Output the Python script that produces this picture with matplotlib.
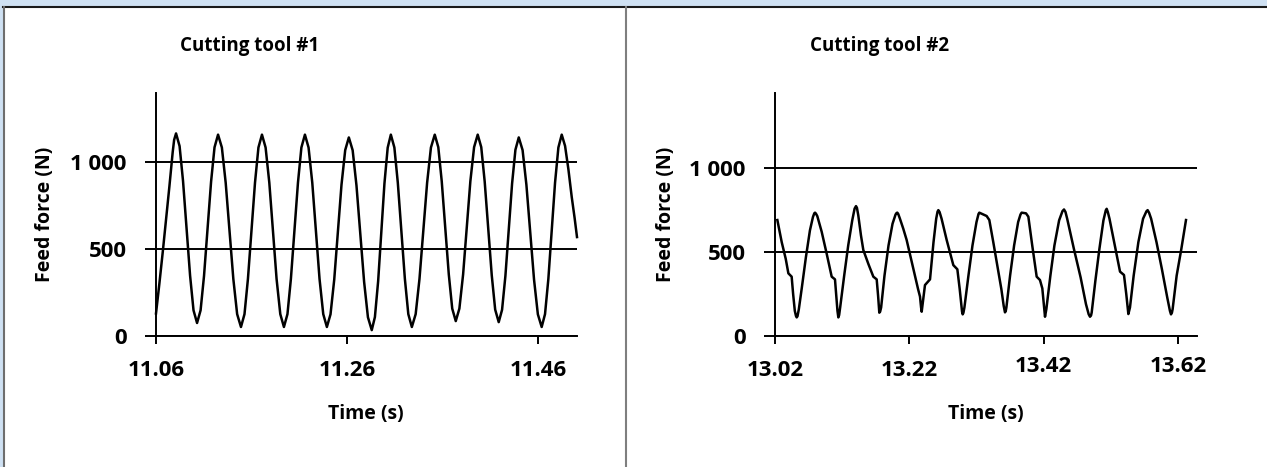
import matplotlib

matplotlib.use("Agg")
import matplotlib.pyplot as plt
from matplotlib.lines import Line2D
from matplotlib.patches import Rectangle
from matplotlib.transforms import ScaledTranslation

plt.rcParams["font.family"] = ["Open Sans", "DejaVu Sans"]
plt.rcParams["font.weight"] = "bold"

W, H = 1267, 467

# ---- data ------------------------------------------------------------------
tool1_time = [
    11.0600, 11.0635, 11.0670, 11.0705, 11.0740, 11.0775, 11.0790, 11.0810,
    11.0847, 11.0883, 11.0920, 11.0957, 11.0993, 11.1030,
    11.1067, 11.1103, 11.1140, 11.1177, 11.1213, 11.1250,
    11.1290, 11.1330, 11.1370, 11.1410, 11.1450, 11.1490,
    11.1527, 11.1563, 11.1600, 11.1637, 11.1673, 11.1710,
    11.1748, 11.1787, 11.1825, 11.1863, 11.1902, 11.1940,
    11.1977, 11.2013, 11.2050, 11.2087, 11.2123, 11.2160,
    11.2198, 11.2237, 11.2275, 11.2313, 11.2352, 11.2390,
    11.2428, 11.2467, 11.2505, 11.2543, 11.2582, 11.2620,
    11.2660, 11.2700, 11.2740, 11.2780, 11.2820, 11.2860,
    11.2893, 11.2927, 11.2960, 11.2993, 11.3027, 11.3060,
    11.3097, 11.3133, 11.3170, 11.3207, 11.3243, 11.3280,
    11.3320, 11.3360, 11.3400, 11.3440, 11.3480, 11.3520,
    11.3557, 11.3593, 11.3630, 11.3667, 11.3703, 11.3740,
    11.3778, 11.3817, 11.3855, 11.3893, 11.3932, 11.3970,
    11.4007, 11.4043, 11.4080, 11.4117, 11.4153, 11.4190,
    11.4225, 11.4260, 11.4295, 11.4330, 11.4365, 11.4400,
    11.4440, 11.4480, 11.4520, 11.4560, 11.4600, 11.4640,
    11.4675, 11.4710, 11.4745, 11.4780, 11.4815, 11.4850,
    11.4885, 11.4920, 11.4955, 11.4985, 11.5010,
]
tool1_force = [
    130, 300, 480, 670, 860, 1060, 1130, 1167,
    1094, 894, 621, 348, 148, 75,
    148, 346, 618, 889, 1087, 1160,
    1086, 883, 606, 329, 126, 52,
    126, 329, 606, 883, 1086, 1160,
    1086, 883, 606, 329, 126, 52,
    126, 329, 606, 883, 1086, 1160,
    1086, 883, 606, 329, 126, 52,
    125, 325, 598, 871, 1071, 1144,
    1070, 867, 589, 312, 108, 34,
    109, 316, 597, 879, 1085, 1160,
    1086, 883, 606, 329, 126, 52,
    126, 329, 606, 883, 1086, 1160,
    1088, 892, 623, 355, 158, 86,
    158, 355, 623, 892, 1088, 1160,
    1088, 890, 620, 350, 152, 80,
    151, 346, 612, 878, 1073, 1144,
    1071, 871, 598, 325, 125, 52,
    126, 329, 606, 883, 1086, 1160,
    1095, 960, 800, 680, 570,
]

tool2_time = [
    13.0235, 13.0300, 13.0360, 13.0399, 13.0448, 13.0470, 13.0495, 13.0512, 13.0523,
    13.0535, 13.0555, 13.0600, 13.0660, 13.0720, 13.0765, 13.0785, 13.0796,
    13.0810, 13.0830, 13.0895, 13.0970, 13.1044, 13.1093, 13.1110, 13.1130, 13.1143,
    13.1155, 13.1170, 13.1230, 13.1290, 13.1350, 13.1385, 13.1406,
    13.1420, 13.1440, 13.1480, 13.1515, 13.1590, 13.1664, 13.1714, 13.1735, 13.1753,
    13.1765, 13.1780, 13.1830, 13.1890, 13.1950, 13.1995, 13.2010, 13.2021,
    13.2035, 13.2060, 13.2110, 13.2160, 13.2260, 13.2330, 13.2359, 13.2375, 13.2384,
    13.2395, 13.2433, 13.2508, 13.2560, 13.2600, 13.2620, 13.2632,
    13.2650, 13.2680, 13.2756, 13.2855, 13.2915, 13.2950, 13.2985, 13.2994,
    13.3005, 13.3020, 13.3080, 13.3140, 13.3200, 13.3230, 13.3242, 13.3351, 13.3391,
    13.3450, 13.3510, 13.3570, 13.3605, 13.3624,
    13.3635, 13.3645, 13.3700, 13.3760, 13.3820, 13.3855, 13.3872, 13.3937, 13.3972,
    13.4030, 13.4096, 13.4145, 13.4180, 13.4220,
    13.4240, 13.4300, 13.4360, 13.4430, 13.4480, 13.4503,
    13.4525, 13.4550, 13.4650, 13.4750, 13.4830, 13.4870, 13.4890,
    13.4905, 13.4915, 13.4970, 13.5030, 13.5090, 13.5125, 13.5138,
    13.5155, 13.5180, 13.5260, 13.5337, 13.5396, 13.5430, 13.5461,
    13.5485, 13.5540, 13.5610, 13.5680, 13.5730, 13.5748,
    13.5770, 13.5800, 13.5880, 13.5960, 13.6040, 13.6080, 13.6096,
    13.6110, 13.6120, 13.6180, 13.6250, 13.6319,
]
tool2_force = [
    692, 560, 460, 374, 354, 250, 150, 120, 111,
    118, 160, 290, 470, 630, 710, 732, 736,
    730, 715, 622, 490, 354, 338, 250, 150, 111,
    125, 170, 360, 540, 690, 760, 775,
    765, 720, 600, 513, 430, 354, 338, 240, 139,
    145, 170, 360, 540, 670, 725, 734, 736,
    728, 700, 640, 573, 400, 280, 235, 170, 145,
    180, 304, 338, 560, 700, 742, 751,
    740, 700, 573, 423, 398, 280, 145, 129,
    138, 170, 360, 540, 680, 728, 736, 716, 692,
    560, 420, 280, 180, 141,
    148, 170, 360, 540, 680, 725, 736, 732, 712,
    540, 354, 334, 284, 115,
    160, 360, 540, 690, 745, 755,
    740, 700, 520, 350, 190, 130, 115,
    122, 140, 330, 520, 690, 750, 759,
    740, 700, 540, 384, 364, 250, 131,
    170, 360, 560, 700, 744, 751,
    735, 700, 560, 400, 230, 150, 129,
    140, 160, 360, 520, 692,
]

tool1_xticks = [11.06, 11.26, 11.46]
tool2_xticks = [13.02, 13.22, 13.42, 13.62]
y_ticks = [0, 500, 1000]
y_ticklabels = ["0", "500", "1 000"]
titles = ["Cutting tool #1", "Cutting tool #2"]

TICK_FS, LABEL_FS, TITLE_FS = 16, 14, 13.5


def fig_box(x0, y0, x1, y1):
    # pixel box (top-left origin) -> figure fraction rect
    return [x0 / W, 1 - y1 / H, (x1 - x0) / W, (y1 - y0) / H]


def draw_panel(ax, t, f, xticks, xlim, ylim, title, title_x):
    ax.plot(t, f, color="black", lw=1.8, solid_joinstyle="round", clip_on=False)
    ax.set_xlim(*xlim)
    ax.set_ylim(*ylim)
    for side in ("top", "right"):
        ax.spines[side].set_visible(False)
    for side in ("left", "bottom"):
        ax.spines[side].set_linewidth(1.4)
    ax.set_yticks(y_ticks)
    ax.set_yticklabels(y_ticklabels)
    ax.set_xticks(xticks)
    ax.set_xticklabels([f"{v:.2f}" for v in xticks])
    ax.tick_params(axis="y", direction="out", length=8, width=1.4, pad=13,
                   labelsize=TICK_FS)
    ax.tick_params(axis="x", direction="out", length=6, width=1.4, pad=11,
                   labelsize=TICK_FS)
    ax.yaxis.grid(True, color="black", lw=1.4)
    ax.set_axisbelow(False)
    ax.set_xlabel("Time (s)", fontsize=LABEL_FS, fontweight="bold", va="center")
    ax.set_ylabel("Feed force (N)", fontsize=LABEL_FS, fontweight="bold", va="center")
    ax.figure.text(title_x / W, 1 - 46 / H, title, fontsize=TITLE_FS,
                   ha="center", va="center", fontweight="bold")


fig = plt.figure(figsize=(W / 100, H / 100), dpi=100)

# window-like frame
fig.add_artist(Rectangle((0, 1 - 6 / H), 1, 6 / H, transform=fig.transFigure,
                         color="#cfe1f3", lw=0))
fig.add_artist(Rectangle((0, 0), 3 / W, 1, transform=fig.transFigure,
                         color="#cfe1f3", lw=0))
fig.add_artist(Line2D([3 / W, 1], [1 - 6.5 / H] * 2, transform=fig.transFigure,
                      color="#1a1a1a", lw=1.5))
fig.add_artist(Line2D([3.5 / W] * 2, [0, 1 - 6.5 / H], transform=fig.transFigure,
                      color="#6e6e6e", lw=1.5))
fig.add_artist(Line2D([626 / W] * 2, [0, 1 - 6.5 / H], transform=fig.transFigure,
                      color="#7f7f7f", lw=1.5))

ax1 = fig.add_axes(fig_box(156, 93, 577, 336))
draw_panel(ax1, tool1_time, tool1_force, tool1_xticks, (11.06, 11.501), (0, 1400),
           titles[0], 250)
ax1.xaxis.set_label_coords((366 - 156) / 421, (336 - 414) / 243)
ax1.yaxis.set_label_coords((45 - 156) / 421, 0.5)

ax2 = fig.add_axes(fig_box(775, 93, 1197, 336))
draw_panel(ax2, tool2_time, tool2_force, tool2_xticks, (13.02, 13.6483), (0, 1450),
           titles[1], 880)
ax2.xaxis.set_label_coords((986 - 775) / 422, (336 - 414) / 243)
ax2.yaxis.set_label_coords((666 - 775) / 422, 0.5)
# the last two time labels sit a little higher in the original
for lab in ax2.get_xticklabels()[2:]:
    lab.set_transform(lab.get_transform() + ScaledTranslation(0, 4 / 100, fig.dpi_scale_trans))

fig.savefig("out.png", dpi=100, facecolor="white")
